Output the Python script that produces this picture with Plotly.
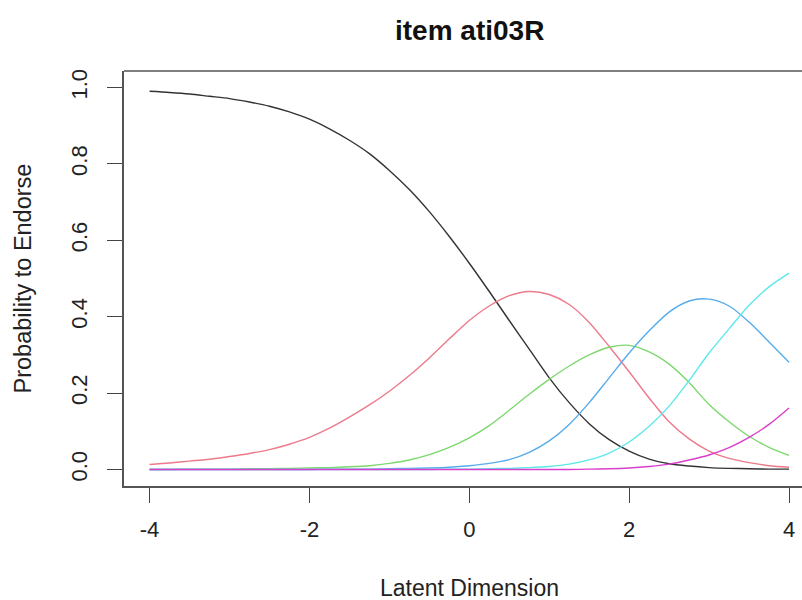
import plotly.graph_objects as go

# Latent trait grid
theta = [-4.0, -3.75, -3.5, -3.25, -3.0, -2.75, -2.5, -2.25, -2.0, -1.75, -1.5,
         -1.25, -1.0, -0.75, -0.5, -0.25, 0.0, 0.25, 0.5, 0.75, 1.0, 1.25, 1.5,
         1.75, 2.0, 2.25, 2.5, 2.75, 3.0, 3.25, 3.5, 3.75, 4.0]

# Category response probabilities for item ati03R
cat1 = [0.990, 0.987, 0.983, 0.977, 0.971, 0.962, 0.951, 0.936, 0.917, 0.892, 0.862,
        0.827, 0.783, 0.733, 0.675, 0.610, 0.540, 0.466, 0.390, 0.315, 0.240, 0.175,
        0.120, 0.078, 0.048, 0.027, 0.015, 0.009, 0.005, 0.003, 0.002, 0.001, 0.001]
cat2 = [0.013, 0.017, 0.022, 0.027, 0.034, 0.042, 0.052, 0.066, 0.084, 0.108, 0.137,
        0.169, 0.205, 0.246, 0.292, 0.342, 0.390, 0.428, 0.455, 0.466, 0.458, 0.432,
        0.385, 0.322, 0.256, 0.187, 0.125, 0.080, 0.048, 0.029, 0.018, 0.010, 0.006]
cat3 = [0.000, 0.000, 0.001, 0.001, 0.001, 0.002, 0.002, 0.003, 0.004, 0.005, 0.007,
        0.010, 0.016, 0.025, 0.039, 0.058, 0.083, 0.115, 0.155, 0.197, 0.236, 0.271,
        0.300, 0.320, 0.325, 0.308, 0.276, 0.228, 0.170, 0.125, 0.087, 0.058, 0.037]
cat4 = [0.000, 0.000, 0.000, 0.000, 0.000, 0.000, 0.000, 0.000, 0.000, 0.001, 0.001,
        0.001, 0.002, 0.003, 0.004, 0.006, 0.010, 0.016, 0.026, 0.045, 0.075, 0.118,
        0.175, 0.240, 0.305, 0.363, 0.412, 0.441, 0.446, 0.428, 0.386, 0.334, 0.281]
cat5 = [0.000, 0.000, 0.000, 0.000, 0.000, 0.000, 0.000, 0.000, 0.000, 0.000, 0.000,
        0.000, 0.000, 0.000, 0.000, 0.001, 0.001, 0.002, 0.003, 0.005, 0.008, 0.014,
        0.025, 0.043, 0.072, 0.113, 0.166, 0.233, 0.305, 0.368, 0.430, 0.478, 0.514]
cat6 = [0.000, 0.000, 0.000, 0.000, 0.000, 0.000, 0.000, 0.000, 0.000, 0.000, 0.000,
        0.000, 0.000, 0.000, 0.000, 0.000, 0.000, 0.000, 0.000, 0.000, 0.000, 0.000,
        0.001, 0.002, 0.004, 0.008, 0.014, 0.025, 0.038, 0.057, 0.084, 0.118, 0.161]

series = [cat1, cat2, cat3, cat4, cat5, cat6]
colors = ["#333333", "#EC7A8B", "#7DD86E", "#56ACEC", "#5DE8EA", "#D93FCB"]

x_ticks = [-4, -2, 0, 2, 4]
x_tick_text = ["-4", "-2", "0", "2", "4"]
y_ticks = [0.0, 0.2, 0.4, 0.6, 0.8, 1.0]
y_tick_text = ["0.0", "0.2", "0.4", "0.6", "0.8", "1.0"]

FONT = "Liberation Sans, Arial, sans-serif"

fig = go.Figure()
for vals, col in zip(series, colors):
    fig.add_trace(go.Scatter(x=theta, y=vals, mode="lines",
                             line=dict(color=col, width=1.4, shape="spline", smoothing=0.8),
                             showlegend=False, hoverinfo="skip"))

fig.update_layout(
    width=802, height=600,
    margin=dict(l=124, r=0, t=71, b=114),
    paper_bgcolor="white", plot_bgcolor="white",
    font=dict(family=FONT, color="#222222"),
    xaxis=dict(range=[-4.32, 4.1625], tickvals=x_ticks, ticktext=x_tick_text,
               ticks="outside", ticklen=15,
               tickwidth=1.3, tickcolor="#444444", showline=True, linecolor="#555555",
               linewidth=1.6, showgrid=False, zeroline=False,
               tickfont=dict(size=22, family=FONT, color="#222222"),
               ticklabelstandoff=8),
    yaxis=dict(range=[-0.0432, 1.0432], tickvals=y_ticks, ticktext=y_tick_text,
               ticks="outside", ticklen=15, tickwidth=1.3, tickcolor="#444444",
               showline=True, linecolor="#555555", linewidth=1.6, showgrid=False,
               zeroline=False, tickangle=-90,
               tickfont=dict(size=22, family=FONT, color="#222222"),
               ticklabelstandoff=11),
    shapes=[dict(type="line", xref="paper", yref="paper", x0=0, x1=1, y0=1, y1=1,
                 line=dict(color="#555555", width=1.6))],
    annotations=[
        dict(text="<b>item ati03R</b>", xref="paper", yref="paper", x=0.5096, y=1,
             yshift=41, showarrow=False, font=dict(size=28, family=FONT, color="#111111"),
             xanchor="center", yanchor="middle"),
        dict(text="Latent Dimension", xref="paper", yref="paper", x=0.5096, y=0,
             yshift=-102, showarrow=False, font=dict(size=23, family=FONT, color="#222222"),
             xanchor="center", yanchor="middle"),
        dict(text="Probability to Endorse", xref="paper", yref="paper", x=0, y=0.5,
             xshift=-102, showarrow=False, textangle=-90,
             font=dict(size=23.5, family=FONT, color="#222222"),
             xanchor="center", yanchor="middle"),
    ],
)

fig.write_html("out.html")
